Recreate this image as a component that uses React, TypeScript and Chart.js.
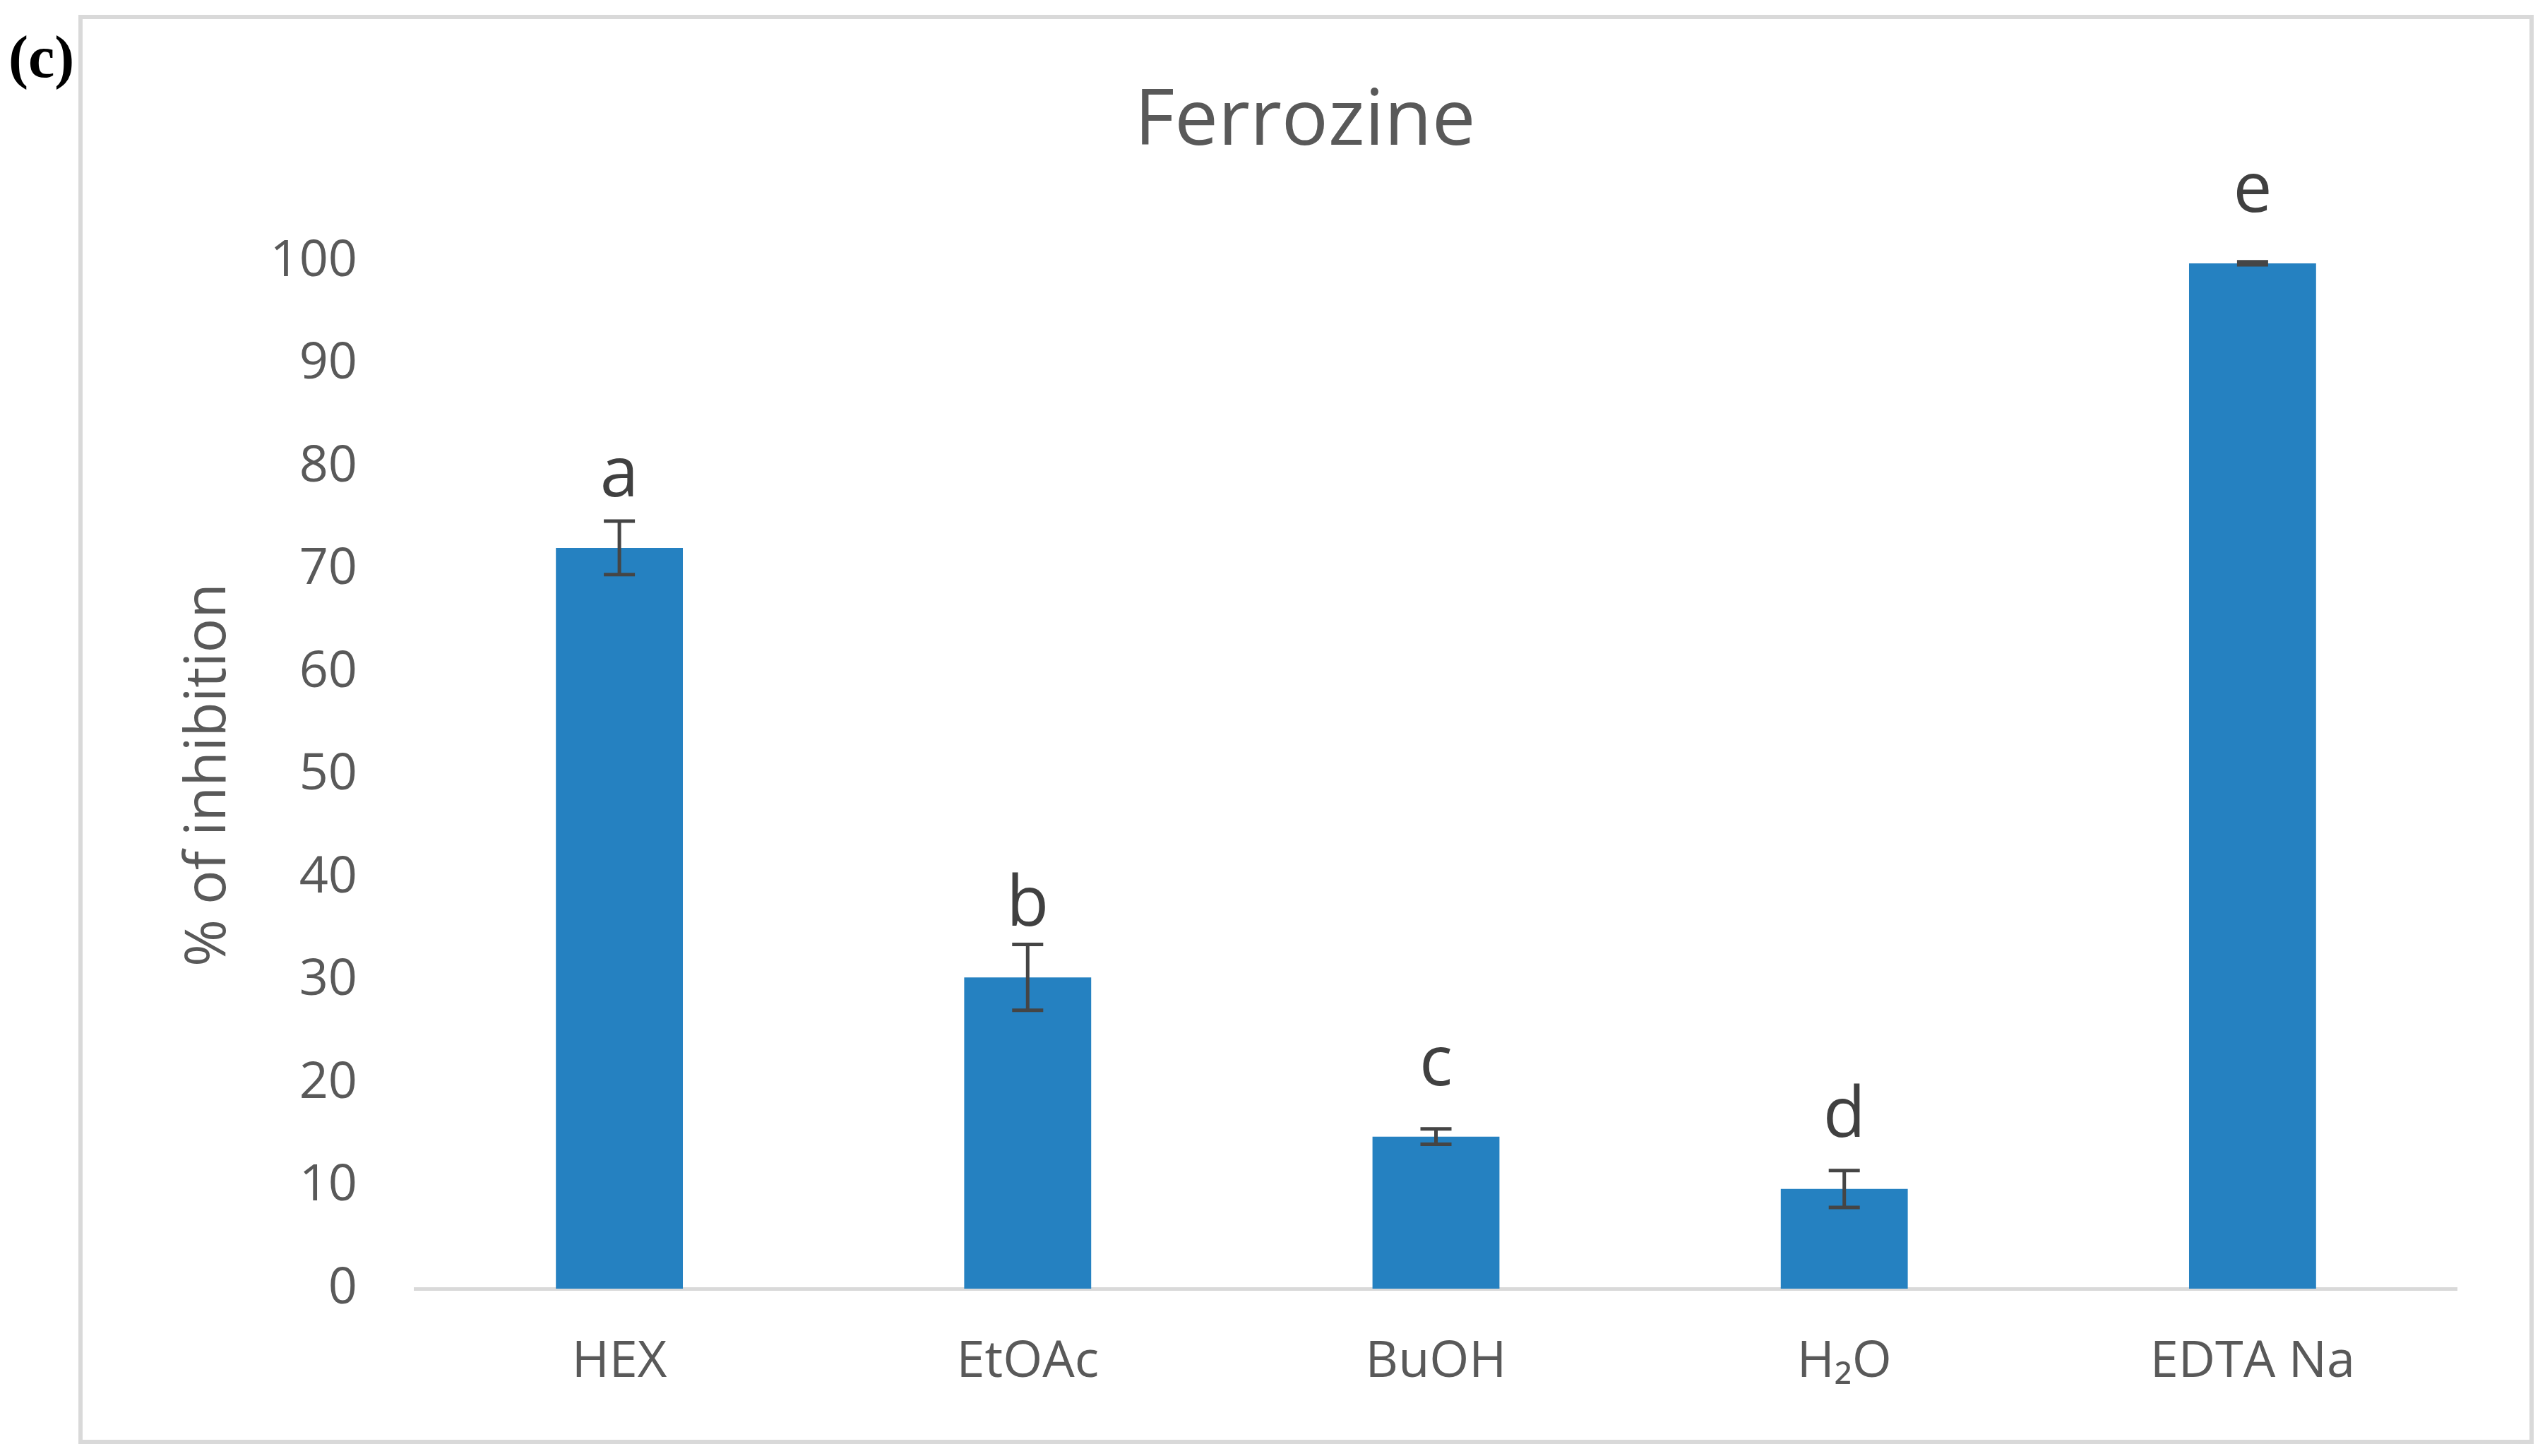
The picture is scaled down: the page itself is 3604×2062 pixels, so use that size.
import React, { useEffect, useRef } from "react";
import { Chart, registerables } from "chart.js";

Chart.register(...registerables);

const categories = ["HEX", "EtOAc", "BuOH", "H₂O", "EDTA Na"];
const inhibition = [72.1, 30.3, 14.8, 9.7, 99.8];
const errors = [2.6, 3.2, 0.75, 1.8, 0.15];
const letters = ["a", "b", "c", "d", "e"];
const letterPos = [77.1, 35.3, 19.8, 14.8, 104.8];
const yMin = 0;
const yMax = 100;
const yStep = 10;
const chartTitle = "Ferrozine";
const yTitle = "% of inhibition";
const panelLabel = "(c)";

const W = 3604;
const H = 2062;
const FONT = "'Open Sans', 'Noto Sans', sans-serif";

const framePlugin = {
  id: "frame",
  beforeDraw(chart: any) {
    const ctx = chart.ctx;
    ctx.save();
    ctx.fillStyle = "#ffffff";
    ctx.fillRect(0, 0, chart.width, chart.height);
    ctx.strokeStyle = "#d9d9d9";
    ctx.lineWidth = 6;
    ctx.strokeRect(114, 24, 3471, 2018);
    ctx.fillStyle = "#000000";
    ctx.font = "bold 84px 'Liberation Serif', 'Times New Roman', serif";
    ctx.textAlign = "left";
    ctx.textBaseline = "alphabetic";
    ctx.fillText(panelLabel, 12, 109);
    ctx.restore();
  },
};

const errorPlugin = {
  id: "errorbars",
  afterDatasetsDraw(chart: any) {
    const ctx = chart.ctx;
    const meta = chart.getDatasetMeta(0);
    const ys = chart.scales.y;
    ctx.save();
    ctx.strokeStyle = "#454545";
    ctx.lineWidth = 5;
    meta.data.forEach((bar: any, i: number) => {
      const x = bar.x;
      const top = ys.getPixelForValue(inhibition[i] + errors[i]);
      const bot = ys.getPixelForValue(inhibition[i] - errors[i]);
      ctx.beginPath();
      ctx.moveTo(x, top);
      ctx.lineTo(x, bot);
      ctx.moveTo(x - 22, top);
      ctx.lineTo(x + 22, top);
      ctx.moveTo(x - 22, bot);
      ctx.lineTo(x + 22, bot);
      ctx.stroke();
    });
    ctx.fillStyle = "#404040";
    ctx.font = `98px ${FONT}`;
    ctx.textAlign = "center";
    ctx.textBaseline = "alphabetic";
    meta.data.forEach((bar: any, i: number) => {
      ctx.fillText(letters[i], bar.x, ys.getPixelForValue(letterPos[i]));
    });
    ctx.restore();
  },
};

export default function App() {
  const ref = useRef<HTMLCanvasElement | null>(null);

  useEffect(() => {
    if (!ref.current) return;
    const chart = new Chart(ref.current, {
      type: "bar",
      data: {
        labels: categories,
        datasets: [
          {
            label: "% of inhibition",
            data: inhibition,
            backgroundColor: "#2581C1",
            borderWidth: 0,
            barPercentage: 0.311,
            categoryPercentage: 1.0,
          },
        ],
      },
      options: {
        responsive: false,
        animation: false,
        devicePixelRatio: 1,
        layout: { padding: { left: 217, right: 125, top: 30, bottom: 37 } },
        plugins: {
          legend: { display: false },
          tooltip: { enabled: false },
          title: {
            display: true,
            text: chartTitle,
            color: "#595959",
            font: { family: FONT, size: 110, weight: "normal" },
            padding: { top: 78, bottom: 130 },
          },
        },
        scales: {
          x: {
            offset: true,
            grid: { display: false, drawTicks: false },
            border: { display: true, color: "#d9d9d9", width: 5 },
            ticks: {
              color: "#595959",
              font: { family: FONT, size: 72 },
              padding: 61,
              maxRotation: 0,
              minRotation: 0,
            },
            afterFit: (scale: any) => {
              scale.height = 200;
            },
          },
          y: {
            min: yMin,
            max: yMax,
            grid: { display: false, drawTicks: false },
            border: { display: false },
            ticks: {
              stepSize: yStep,
              color: "#595959",
              font: { family: FONT, size: 72 },
              padding: 82,
            },
            title: {
              display: true,
              text: yTitle,
              color: "#595959",
              font: { family: FONT, size: 81, weight: "normal" },
              padding: { top: 30, bottom: 0 },
            },
            afterFit: (scale: any) => {
              scale.width = 371;
            },
          },
        },
      },
      plugins: [framePlugin, errorPlugin],
    });
    return () => chart.destroy();
  }, []);

  return (
    <div style={{ position: "fixed", left: 0, top: 0, width: W, height: H, background: "#fff" }}>
      <canvas ref={ref} width={W} height={H} style={{ display: "block", width: W, height: H }} />
    </div>
  );
}
